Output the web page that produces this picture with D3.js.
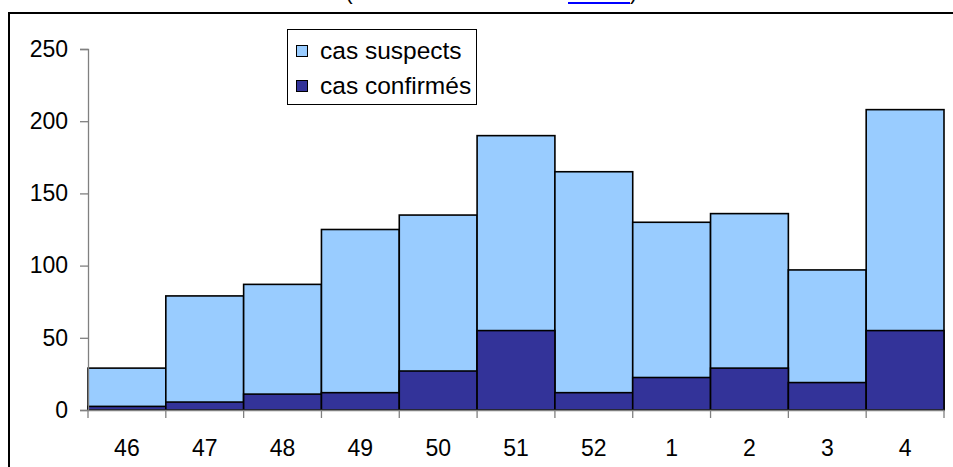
<!DOCTYPE html>
<html><head><meta charset="utf-8">
<script src="https://cdn.jsdelivr.net/npm/d3@7"></script>
<style>body{margin:0;background:#fff}svg{display:block}</style>
</head><body>
<svg id="c" width="953" height="467"></svg>
<script>
const categories = ["46","47","48","49","50","51","52","1","2","3","4"];
const suspects = [29, 79, 87, 125, 135, 190, 165, 130, 136, 97, 208];
const confirmes = [2.5, 5.5, 11, 12, 27, 55, 12, 22.5, 29, 19, 55];
const yTicks = [0, 50, 100, 150, 200, 250];
const seriesNames = ["cas suspects", "cas confirmés"];
const colors = ["#99CCFF", "#333399"];

const svg = d3.select("#c");
const font = "'Liberation Sans', Arial, sans-serif";
const fs = 23;

// header line, cut off by the top edge as in the reference
svg.append("text").attr("x", 345).attr("y", -1).attr("font-family", font).attr("font-size", fs).text("(");
svg.append("text").attr("x", 568).attr("y", -1).attr("font-family", font).attr("font-size", fs).attr("fill", "#0000ff").text("carte");
svg.append("line").attr("x1", 568).attr("x2", 630).attr("y1", 3).attr("y2", 3).attr("stroke", "#0000ff").attr("stroke-width", 2);
svg.append("text").attr("x", 630).attr("y", -1).attr("font-family", font).attr("font-size", fs).text(")");

// outer frame
svg.append("rect").attr("x", 9).attr("y", 13).attr("width", 960).attr("height", 470)
  .attr("fill", "none").attr("stroke", "#000").attr("stroke-width", 2);

const x = d3.scaleBand().domain(categories).range([88, 944]).padding(0);
const y = d3.scaleLinear().domain([0, 250]).range([410, 49]);

// bars
svg.append("g").selectAll("rect").data(categories).join("rect")
  .attr("x", d => x(d)).attr("width", x.bandwidth())
  .attr("y", (d,i) => y(suspects[i])).attr("height", (d,i) => y(0) - y(suspects[i]))
  .attr("fill", colors[0]).attr("stroke", "#000").attr("stroke-width", 1.6);
svg.append("g").selectAll("rect").data(categories).join("rect")
  .attr("x", d => x(d)).attr("width", x.bandwidth())
  .attr("y", (d,i) => y(confirmes[i])).attr("height", (d,i) => y(0) - y(confirmes[i]))
  .attr("fill", colors[1]).attr("stroke", "#000").attr("stroke-width", 1.6);

// y axis
const yAxis = svg.append("g").attr("transform", "translate(88,0)")
  .call(d3.axisLeft(y).tickValues(yTicks).tickSize(8).tickPadding(12));
yAxis.select(".domain").attr("stroke", "#808080").attr("stroke-width", 1.3);
yAxis.selectAll(".tick line").attr("stroke", "#808080").attr("stroke-width", 1.3);
yAxis.selectAll(".tick text").attr("font-family", font).attr("font-size", fs).attr("fill", "#000");

// x axis
const xAxis = svg.append("g").attr("transform", "translate(0,410)")
  .call(d3.axisBottom(x).tickSize(0).tickPadding(46));
xAxis.select(".domain").attr("stroke", "#808080").attr("stroke-width", 1.3);
xAxis.selectAll(".tick text").attr("font-family", font).attr("font-size", fs).attr("fill", "#000").attr("dy", "0");
// boundary ticks
const bounds = categories.map(c => x(c)).concat([x(categories[categories.length-1]) + x.bandwidth()]);
xAxis.append("g").selectAll("line").data(bounds).join("line")
  .attr("x1", d => d).attr("x2", d => d).attr("y1", 0).attr("y2", 8)
  .attr("stroke", "#808080").attr("stroke-width", 1.3);

// legend
const lg = svg.append("g");
lg.append("rect").attr("x", 287.5).attr("y", 29.5).attr("width", 189).attr("height", 75)
  .attr("fill", "#fff").attr("stroke", "#000").attr("stroke-width", 1);
seriesNames.forEach((n, i) => {
  lg.append("rect").attr("x", 296.5).attr("y", 45.5 + i*35).attr("width", 11).attr("height", 11)
    .attr("fill", colors[i]).attr("stroke", "#000").attr("stroke-width", 1);
  lg.append("text").attr("x", 320).attr("y", 58.5 + i*35).attr("font-family", font).attr("font-size", 24.5).text(n);
});
</script>
</body></html>
